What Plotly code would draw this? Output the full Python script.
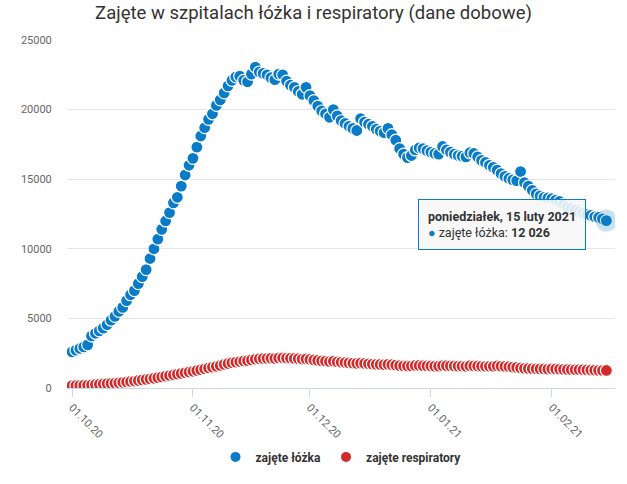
import pandas as pd
import plotly.graph_objects as go

TITLE = "Zajęte w szpitalach łóżka i respiratory (dane dobowe)"

# daily data from 01.10.2020 to 15.02.2021
dates = pd.date_range("2020-10-01", "2021-02-15", freq="D")

lozka = [
    2600, 2720, 2840, 2950, 3100, 3740, 3930, 4100, 4300, 4550,
    4870, 5150, 5500, 5790, 6280, 6700, 7000, 7500, 8000, 8500,
    9300, 10000, 10700, 11400, 12000, 12600, 13300, 13700, 14500, 15300,
    16000, 16500, 17300, 18100, 18700, 19300, 19700, 20300, 20700, 21200,
    21700, 22100, 22350, 22400, 22100, 22000, 22550, 23050, 22700, 22600,
    22500, 22300, 22150, 22550, 22500, 22050, 21750, 21600, 21300, 21100,
    21600, 21000, 20650, 20250, 19900, 19700, 19450, 20000, 19550, 19200,
    19000, 18800, 18650, 18500, 19350, 19100, 18950, 18800, 18600, 18450,
    18350, 18650, 18200, 17800, 17200, 16800, 16550, 16700, 17100, 17250,
    17200, 17050, 16950, 16850, 16800, 17350, 17100, 16950, 16800, 16700,
    16650, 16600, 16900, 16850, 16600, 16350, 16200, 16000, 15850, 15650,
    15400, 15200, 15050, 14950, 14900, 15550, 14750, 14500, 14200, 13950,
    13800, 13700, 13650, 13600, 13500, 13400, 13200, 13000, 12900, 12800,
    12650, 12550, 12450, 12400, 12300, 12250, 12150, 12026,
]

respiratory = [
    170, 180, 190, 200, 210, 230, 250, 270, 290, 310,
    330, 350, 380, 410, 440, 470, 500, 540, 580, 620,
    660, 700, 750, 800, 850, 900, 950, 1000, 1050, 1100,
    1150, 1200, 1260, 1320, 1380, 1440, 1500, 1560, 1620, 1700,
    1760, 1820, 1860, 1900, 1940, 1960, 2020, 2070, 2100, 2120,
    2130, 2140, 2130, 2160, 2170, 2150, 2140, 2120, 2100, 2080,
    2090, 2050, 2010, 1980, 1950, 1930, 1900, 1920, 1880, 1850,
    1830, 1800, 1780, 1770, 1790, 1760, 1740, 1720, 1700, 1690,
    1680, 1700, 1670, 1640, 1610, 1590, 1580, 1590, 1620, 1620,
    1600, 1590, 1580, 1570, 1570, 1610, 1600, 1590, 1580, 1570,
    1570, 1560, 1600, 1590, 1580, 1570, 1560, 1560, 1560, 1590,
    1570, 1550, 1530, 1500, 1480, 1440, 1410, 1400, 1390, 1380,
    1370, 1370, 1360, 1380, 1370, 1360, 1340, 1330, 1320, 1310,
    1320, 1310, 1300, 1290, 1280, 1270, 1260, 1260,
]

BLUE = "#0a7bc6"
RED = "#d02a2a"

fig = go.Figure()

fig.add_trace(go.Scatter(
    x=dates, y=lozka, name="zajęte łóżka", mode="markers",
    marker=dict(size=12, color=BLUE, line=dict(width=1.2, color="white")),
))
fig.add_trace(go.Scatter(
    x=dates, y=respiratory, name="zajęte respiratory", mode="markers",
    marker=dict(size=12, color=RED, line=dict(width=1.2, color="white")),
))
# hover halo on the last point
fig.add_trace(go.Scatter(
    x=[dates[-1]], y=[lozka[-1]], mode="markers", showlegend=False,
    marker=dict(size=22, color="rgba(10,123,198,0.22)", line=dict(width=0)),
))

# tooltip
fig.add_annotation(
    x=dates[-1], y=lozka[-1], xref="x", yref="y",
    xanchor="right", yanchor="middle", xshift=-20, yshift=-4,
    showarrow=False, align="left",
    text=("<b>poniedziałek, 15 luty 2021</b><br>"
          f"<span style='color:{BLUE}'>●</span> zajęte łóżka: <b>12 026</b>"),
    font=dict(family="Roboto", size=12.5, color="#333333"),
    bgcolor="rgba(247,247,247,0.88)", bordercolor=BLUE, borderwidth=1, borderpad=9,
)

fig.update_layout(
    width=627, height=484,
    paper_bgcolor="white", plot_bgcolor="white",
    margin=dict(l=67, r=12, t=40, b=88),
    title=dict(text=TITLE, x=0.5, xanchor="center", y=0.975, yanchor="middle",
               font=dict(family="Roboto", size=18.5, color="#333333")),
    font=dict(family="Roboto", color="#666666", size=11),
    showlegend=True,
    legend=dict(orientation="h", x=0.5, xanchor="center", y=-0.198, yanchor="middle",
                font=dict(family="Roboto", size=12, color="#333333", weight="bold"),
                itemsizing="constant"),
    hovermode=False,
    xaxis=dict(
        type="date", automargin=False,
        range=["2020-09-29 17:00", "2021-02-17 05:00"],
        tick0="2020-10-01", dtick="M1", tickformat="%d.%m.%y",
        tickangle=45, ticks="outside", ticklen=8, tickcolor="#ccd6eb",
        showline=True, linecolor="#ccd6eb", linewidth=1,
        showgrid=False, zeroline=False,
        tickfont=dict(size=11, color="#666666"),
    ),
    yaxis=dict(
        automargin=False,
        range=[0, 25000], dtick=5000, tickformat="d",
        showgrid=True, gridcolor="#e6e6e6", gridwidth=1,
        zeroline=False, showline=False,
        ticks="outside", ticklen=12, tickcolor="rgba(0,0,0,0)",
        tickfont=dict(size=11, color="#666666"),
    ),
)

# the page body has a default 8px margin; drop it so the figure fills the window
fig.write_html("out.html", config={"displayModeBar": False},
               post_script="document.body.style.margin='0';")
